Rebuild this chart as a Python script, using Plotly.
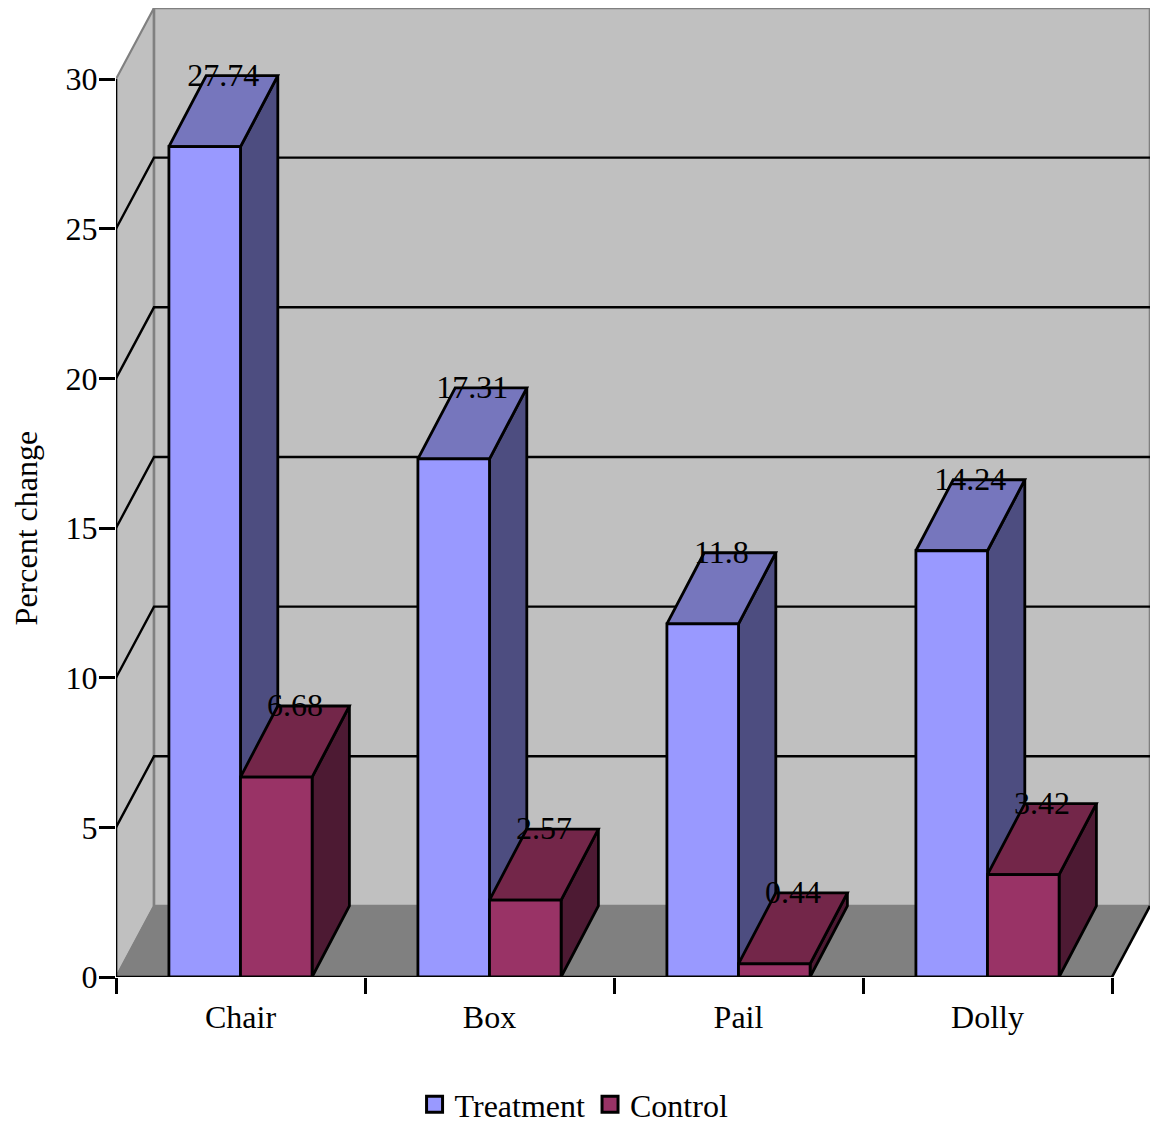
import plotly.graph_objects as go

categories = ["Chair", "Box", "Pail", "Dolly"]
treatment = [27.74, 17.31, 11.8, 14.24]
control = [6.68, 2.57, 0.44, 3.42]
y_ticks = [0, 5, 10, 15, 20, 25, 30]

FONT = "Liberation Serif"
FONT_SIZE = 32

# Oblique projection offsets, in axis units
WALL_DX, WALL_DY = 38 / 249, 71 / 29.92
BAR_DX, BAR_DY = 37.3 / 249, 71 / 29.92
BAR_W = 0.2875
GAP = 0.2125
LABEL_DROP = 2.2 / 29.92

SERIES = [
    ("Treatment", treatment, "#9999FF", "#7676BD", "#4D4D80", 0),
    ("Control", control, "#993366", "#732649", "#4D1A33", 1),
]

fig = go.Figure()


def polygon(xs, ys, fill, line_color="black", line_width=2.8):
    fig.add_trace(go.Scatter(
        x=xs + xs[:1], y=ys + ys[:1], mode="lines", fill="toself", fillcolor=fill,
        line=dict(color=line_color, width=line_width), cliponaxis=False,
        showlegend=False, hoverinfo="skip",
    ))


def stroke(xs, ys, color="black", width=2.6):
    fig.add_trace(go.Scatter(
        x=xs, y=ys, mode="lines", line=dict(color=color, width=width),
        cliponaxis=False, showlegend=False, hoverinfo="skip",
    ))


# Legend entries
for name, _, face, _, _, _ in SERIES:
    fig.add_trace(go.Scatter(
        x=[None], y=[None], mode="markers", name=name,
        marker=dict(symbol="square", size=21, color=face, line=dict(color="black", width=3)),
    ))

y_max = y_ticks[-1]
n = len(categories)

# Side wall, floor and back wall
polygon([0, WALL_DX, WALL_DX, 0], [0, WALL_DY, y_max + WALL_DY, y_max], "#C0C0C0", "#808080", 2.2)
polygon([WALL_DX, n + WALL_DX, n + WALL_DX, WALL_DX],
        [WALL_DY, WALL_DY, y_max + WALL_DY, y_max + WALL_DY], "#C0C0C0", "#808080", 2.6)
polygon([0, n, n + WALL_DX, WALL_DX], [0, 0, WALL_DY, WALL_DY], "#808080", "#808080", 1.5)
stroke([n, n + WALL_DX], [0, WALL_DY])

# Gridlines run up the side wall and across the back wall
for v in y_ticks[1:-1]:
    stroke([0, WALL_DX, n + WALL_DX], [v, v + WALL_DY, v + WALL_DY], width=2.4)

# Front edges of the box
stroke([0, 0], [0, y_max])
stroke([0, n], [0, 0])

# Boxes, painted from back faces to front
label_x, label_y, label_text = [], [], []
for i in range(n):
    for _, values, face, top, side, slot in SERIES:
        v = values[i]
        x0 = i + GAP + slot * BAR_W
        x1 = x0 + BAR_W
        polygon([x1, x1 + BAR_DX, x1 + BAR_DX, x1], [0, BAR_DY, v + BAR_DY, v], side)
        polygon([x0, x1, x1 + BAR_DX, x0 + BAR_DX], [v, v, v + BAR_DY, v + BAR_DY], top)
        polygon([x0, x1, x1, x0], [0, 0, v, v], face)
        label_x.append(x0 + (BAR_W + BAR_DX) / 2)
        label_y.append(v + BAR_DY - LABEL_DROP)
        label_text.append(f"{v:g}")

fig.add_trace(go.Scatter(
    x=label_x, y=label_y, text=label_text, mode="text", textposition="middle center",
    textfont=dict(family=FONT, size=FONT_SIZE, color="black"), cliponaxis=False,
    showlegend=False, hoverinfo="skip",
))

fig.update_layout(
    width=1152, height=1125,
    margin=dict(l=116, r=2, t=8, b=148, autoexpand=False),
    paper_bgcolor="white", plot_bgcolor="rgba(0,0,0,0)",
    font=dict(family=FONT, size=FONT_SIZE, color="black"),
    legend=dict(orientation="h", x=0.443, xanchor="center", y=-0.1315, yanchor="middle",
                font=dict(family=FONT, size=FONT_SIZE), itemwidth=30, tracegroupgap=0),
    xaxis=dict(
        range=[0, n + WALL_DX], tickmode="array", tickvals=[i + 0.5 for i in range(n)],
        ticktext=categories, ticks="", showgrid=False, zeroline=False, showline=False,
        minor=dict(tickmode="array", tickvals=list(range(n + 1)), ticks="outside", ticklen=16,
                   tickwidth=2.6, tickcolor="black", showgrid=False),
        ticklabelstandoff=18,
    ),
    yaxis=dict(
        range=[0, y_max + WALL_DY], tickmode="array", tickvals=y_ticks, ticks="outside", ticklen=16,
        tickwidth=2.6, tickcolor="black", showgrid=False, zeroline=False, showline=False,
        ticklabelstandoff=-5,
    ),
    annotations=[dict(
        text="Percent change", textangle=-90, xref="paper", yref="paper",
        x=-0.0875, y=0.4635, xanchor="center", yanchor="middle", showarrow=False,
        font=dict(family=FONT, size=FONT_SIZE),
    )],
)

fig.write_html("out.html")
